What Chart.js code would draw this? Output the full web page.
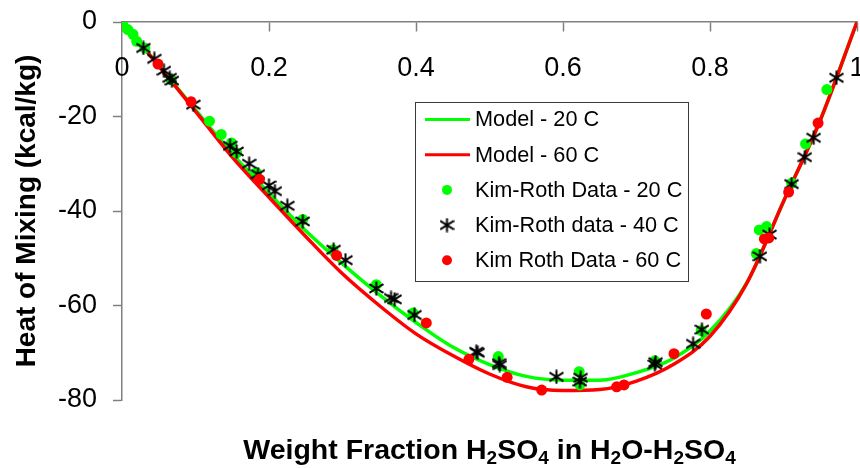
<!DOCTYPE html>
<html>
<head>
<meta charset="utf-8">
<script src="https://cdn.jsdelivr.net/npm/chart.js@4.4.1/dist/chart.umd.min.js"></script>
<style>
  html, body { margin: 0; padding: 0; background: #fff; }
  #wrap { width: 860px; height: 468px; }
</style>
</head>
<body>
<div id="wrap"><canvas id="c" width="860" height="468"></canvas></div>
<script>
// Heat of mixing of sulfuric acid / water: model curves and Kim-Roth data
const FONT = '"Liberation Sans", Arial, Helvetica, sans-serif';

// Model curves (weight fraction H2SO4 vs kcal/kg)
const modelX  = [0, 0.05, 0.1, 0.15, 0.2, 0.25, 0.3, 0.35, 0.4, 0.45, 0.5, 0.55, 0.6, 0.65, 0.7, 0.75, 0.8, 0.85, 0.9, 0.95, 1];
const model20 = [0, -9.2, -18.6, -27.9, -36.2, -44.2, -51.2, -57.7, -63.6, -68.8, -72.5, -75.0, -75.8, -75.8, -74.2, -71.2, -65.4, -55.2, -38.0, -20.8, 0];
const model60 = [0, -9.3, -18.9, -28.6, -37.1, -45.4, -53.3, -60.0, -66.0, -70.6, -74.5, -77.2, -78.0, -77.8, -76.0, -72.5, -66.5, -55.3, -38.0, -20.8, 0];

// Kim-Roth data, 20 C
const kr20X = [0.001, 0.008, 0.015, 0.020, 0.031, 0.067, 0.119, 0.135, 0.149, 0.156, 0.183, 0.246, 0.287, 0.346, 0.396, 0.512, 0.622, 0.623, 0.725, 0.788, 0.863, 0.867, 0.877, 0.911, 0.930, 0.959];
const kr20Y = [-0.5, -1.6, -2.6, -4.1, -5.5, -12.2, -21.0, -23.8, -25.6, -27.7, -31.9, -41.8, -48.2, -55.6, -61.6, -70.8, -74.0, -76.8, -71.7, -65.3, -49.0, -44.0, -43.3, -34.1, -25.8, -14.3];

// Kim-Roth data, 40 C
const kr40X = [0.029, 0.044, 0.057, 0.065, 0.068, 0.097, 0.147, 0.156, 0.173, 0.185, 0.200, 0.208, 0.225, 0.246, 0.288, 0.304, 0.346, 0.366, 0.371, 0.398, 0.482, 0.484, 0.513, 0.514, 0.591, 0.623, 0.624, 0.725, 0.726, 0.777, 0.789, 0.868, 0.881, 0.911, 0.929, 0.941, 0.972];
const kr40Y = [-5.5, -7.8, -10.3, -11.8, -12.4, -17.5, -26.2, -27.4, -30.0, -32.2, -34.6, -35.8, -38.9, -42.2, -48.2, -50.4, -56.4, -58.4, -58.7, -62.0, -69.8, -70.0, -72.2, -72.6, -75.1, -76.1, -75.3, -72.5, -72.0, -68.1, -65.1, -49.6, -45.0, -34.3, -28.6, -24.5, -11.8];

// Kim-Roth data, 60 C
const kr60X = [0.049, 0.094, 0.187, 0.292, 0.414, 0.472, 0.524, 0.571, 0.673, 0.683, 0.751, 0.795, 0.874, 0.880, 0.907, 0.947];
const kr60Y = [-8.9, -16.9, -33.3, -49.4, -63.7, -71.4, -75.2, -77.9, -77.2, -76.8, -70.2, -61.8, -45.9, -45.7, -36.0, -21.4];

// Axis ticks
const xTicks = [0, 0.2, 0.4, 0.6, 0.8, 1];
const yTicks = [-80, -60, -40, -20, 0];

const seriesLabels = ['Model - 20 C', 'Model - 60 C', 'Kim-Roth Data - 20 C', 'Kim-Roth data - 40 C', 'Kim Roth Data - 60 C'];

function pts(xs, ys) { return xs.map((x, i) => ({ x: x, y: ys[i] })); }

// asterisk marker: an X with a vertical bar
function makeStar(size, color, lw) {
  const c = document.createElement('canvas');
  c.width = c.height = size;
  const g = c.getContext('2d');
  g.strokeStyle = color;
  g.lineWidth = lw;
  const m = size / 2, r = size / 2 - 0.5;
  g.beginPath();
  g.moveTo(m - r, m - r * 0.62); g.lineTo(m + r, m + r * 0.62);
  g.moveTo(m - r, m + r * 0.62); g.lineTo(m + r, m - r * 0.62);
  g.moveTo(m, m - r); g.lineTo(m, m + r);
  g.stroke();
  return c;
}
const starImg = makeStar(15, '#000', 2);

// boxed legend inside the plot
const legendBox = {
  id: 'legendBox',
  afterDatasetsDraw(chart) {
    const g = chart.ctx;
    const L = 415, T = 102, R = 688, B = 281;
    g.save();
    g.fillStyle = '#fff';
    g.fillRect(L, T, R - L, B - T);
    g.strokeStyle = '#3a3a3a';
    g.lineWidth = 1;
    g.strokeRect(L + 0.5, T + 0.5, R - L, B - T);
    g.font = '21.7px ' + FONT;
    g.textBaseline = 'middle';
    g.textAlign = 'left';
    chart.data.datasets.forEach((ds, i) => {
      const y = 119.5 + i * 35.2;
      if (ds.showLine) {
        g.strokeStyle = ds.borderColor;
        g.lineWidth = 3;
        g.beginPath();
        g.moveTo(425, y); g.lineTo(470, y);
        g.stroke();
      } else if (ds.pointStyle instanceof HTMLCanvasElement) {
        const im = ds.pointStyle;
        g.drawImage(im, 447 - im.width / 2, y - im.height / 2);
      } else {
        g.fillStyle = ds.backgroundColor;
        g.beginPath();
        g.arc(447, y, 5, 0, Math.PI * 2);
        g.fill();
      }
      g.fillStyle = '#000';
      g.fillText(ds.label, 475, y + 1);
    });
    g.restore();
  }
};

// x-axis title with subscripts
const xTitleParts = [['Weight Fraction H', 0], ['2', 1], ['SO', 0], ['4', 1], [' in H', 0], ['2', 1], ['O-H', 0], ['2', 1], ['SO', 0], ['4', 1]];
const xTitle = {
  id: 'xTitle',
  afterDraw(chart) {
    const g = chart.ctx;
    const big = 'bold 28.5px ' + FONT, small = 'bold 19px ' + FONT;
    g.save();
    g.fillStyle = '#000';
    g.textBaseline = 'alphabetic';
    g.textAlign = 'left';
    let total = 0;
    xTitleParts.forEach(p => { g.font = p[1] ? small : big; total += g.measureText(p[0]).width; });
    const a = chart.chartArea;
    let x = (a.left + a.right) / 2 - total / 2;
    const base = 459;
    xTitleParts.forEach(p => {
      g.font = p[1] ? small : big;
      g.fillText(p[0], x, p[1] ? base + 5 : base);
      x += g.measureText(p[0]).width;
    });
    g.restore();
  }
};

const axisGrey = '#808080';

new Chart(document.getElementById('c'), {
  type: 'scatter',
  data: {
    datasets: [
      { label: seriesLabels[0], data: pts(modelX, model20), showLine: true, borderColor: '#00ff00', backgroundColor: '#00ff00',
        borderWidth: 3.5, pointRadius: 0, cubicInterpolationMode: 'monotone', order: 4 },
      { label: seriesLabels[1], data: pts(modelX, model60), showLine: true, borderColor: '#ff0000', backgroundColor: '#ff0000',
        borderWidth: 3.5, pointRadius: 0, cubicInterpolationMode: 'monotone', order: 3 },
      { label: seriesLabels[2], data: pts(kr20X, kr20Y), backgroundColor: '#00ff00', borderWidth: 0, pointRadius: 5.5, order: 2 },
      { label: seriesLabels[3], data: pts(kr40X, kr40Y), pointStyle: starImg, pointRadius: 7, order: 1 },
      { label: seriesLabels[4], data: pts(kr60X, kr60Y), backgroundColor: '#ff0000', borderWidth: 0, pointRadius: 5.5, order: 0 }
    ]
  },
  options: {
    responsive: false,
    animation: false,
    devicePixelRatio: 1,
    layout: { autoPadding: false, padding: { top: 22, right: 3, bottom: 68, left: 0 } },
    plugins: { legend: { display: false }, tooltip: { enabled: false } },
    scales: {
      y: {
        type: 'linear', position: 'left', min: -80, max: 0,
        afterBuildTicks: s => { s.ticks = yTicks.map(v => ({ value: v })); },
        afterFit: s => { s.width = 122; s.paddingTop = 0; s.paddingBottom = 0; },
        ticks: { color: '#000', font: { family: FONT, size: 27 }, padding: 16,
                 callback: v => String(v) },
        grid: { drawOnChartArea: false, tickLength: 9, tickColor: axisGrey, tickWidth: 1.5 },
        border: { color: axisGrey, width: 1.5 },
        title: { display: true, text: 'Heat of Mixing (kcal/kg)', color: '#000',
                 font: { family: FONT, size: 28, weight: 'bold' }, padding: { top: 10, bottom: 0 } }
      },
      x: {
        type: 'linear', position: { y: 0 }, min: 0, max: 1,
        afterBuildTicks: s => { s.ticks = xTicks.map(v => ({ value: v })); },
        afterFit: s => { s.paddingLeft = 0; s.paddingRight = 0; s.paddingTop = 0; s.paddingBottom = 0; },
        ticks: { color: '#000', font: { family: FONT, size: 27 }, padding: 21, maxRotation: 0, autoSkip: false,
                 callback: v => String(Math.round(v * 10) / 10) },
        grid: { drawOnChartArea: false, tickLength: 9, tickColor: axisGrey, tickWidth: 1.5 },
        border: { color: axisGrey, width: 1.5 }
      }
    }
  },
  plugins: [legendBox, xTitle]
});
</script>
</body>
</html>
